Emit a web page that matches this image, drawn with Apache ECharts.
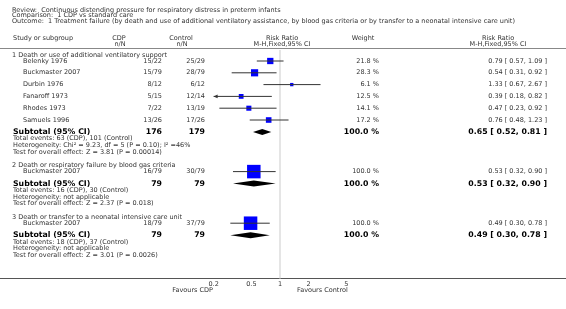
<!DOCTYPE html>
<html>
<head>
<meta charset="utf-8">
<script src="https://cdn.jsdelivr.net/npm/echarts@6/dist/echarts.min.js"></script>
<style>
  html, body { margin: 0; padding: 0; background: #fff; }
  #chart { width: 566px; height: 309px; }
</style>
</head>
<body>
<div id="chart"></div>
<script>
// header lines
const reviewTitle = 'Review:  Continuous distending pressure for respiratory distress in preterm infants';
const comparisonTitle = 'Comparison:  1 CDP vs standard care';
const outcomeTitle = 'Outcome:  1 Treatment failure (by death and use of additional ventilatory assistance, by blood gas criteria or by transfer to a neonatal intensive care unit)';

// subgroups
const groupTitles = [
  '1 Death or use of additional ventilatory support',
  '2 Death or respiratory failure by blood gas criteria',
  '3 Death or transfer to a neonatal intensive care unit'
];

// studies
const studyNames = ['Belenky 1976', 'Buckmaster 2007', 'Durbin 1976', 'Fanaroff 1973', 'Rhodes 1973', 'Samuels 1996', 'Buckmaster 2007', 'Buckmaster 2007'];
const studyGroup = [0, 0, 0, 0, 0, 0, 1, 2];
const cdpEvents = ['15/22', '15/79', '8/12', '5/15', '7/22', '13/26', '16/79', '18/79'];
const controlEvents = ['25/29', '28/79', '6/12', '12/14', '13/19', '17/26', '30/79', '37/79'];
const weights = [21.8, 28.3, 6.1, 12.5, 14.1, 17.2, 100, 100];
const riskRatio = [0.79, 0.54, 1.33, 0.39, 0.47, 0.76, 0.53, 0.49];
const ciLow = [0.57, 0.31, 0.67, 0.18, 0.23, 0.48, 0.32, 0.30];
const ciHigh = [1.09, 0.92, 2.67, 0.82, 0.92, 1.23, 0.90, 0.78];

// subtotals
const subCdpN = [176, 79, 79];
const subControlN = [179, 79, 79];
const subRR = [0.65, 0.53, 0.49];
const subLow = [0.52, 0.32, 0.30];
const subHigh = [0.81, 0.90, 0.78];
const totalEvents = [
  'Total events: 63 (CDP), 101 (Control)',
  'Total events: 16 (CDP), 30 (Control)',
  'Total events: 18 (CDP), 37 (Control)'
];
const heterogeneity = [
  'Heterogeneity: Chi\u00b2 = 9.23, df = 5 (P = 0.10); I\u00b2 =46%',
  'Heterogeneity: not applicable',
  'Heterogeneity: not applicable'
];
const overallEffect = [
  'Test for overall effect: Z = 3.81 (P = 0.00014)',
  'Test for overall effect: Z = 2.37 (P = 0.018)',
  'Test for overall effect: Z = 3.01 (P = 0.0026)'
];

// axis
const xTicks = [0.2, 0.5, 1, 2, 5];
const X_MIN = 0.2, X_MAX = 5;

// ---- layout (row positions in px) ----
const AXIS_Y = 278.5;
const titleY = [], studyY = [], subY = [], noteY = [];
let y = 55;
groupTitles.forEach((t, g) => {
  titleY.push(y);
  y += 6;
  let last = y;
  studyNames.forEach((n, i) => {
    if (studyGroup[i] !== g) return;
    studyY[i] = y;
    last = y;
    y += 11.8;
  });
  const sub = last + 12;
  subY.push(sub);
  noteY.push(sub + 6.7);
  y = sub + 6.7 * 3 + 13.5;
});

const FONT = '"DejaVu Sans", Verdana, sans-serif';
const SMALL = 6.5, BOLD = 7.8;
const txt = (text, x, y, opts = {}) => ({
  type: 'text',
  silent: true,
  style: {
    text, x, y,
    fontFamily: FONT,
    fontSize: opts.size || (opts.bold ? BOLD : SMALL),
    fontWeight: opts.bold ? 'bold' : 'normal',
    fill: opts.bold ? '#000' : '#333',
    align: opts.align || 'left',
    verticalAlign: 'middle'
  }
});

const fmtCI = (r, l, h) => `${r.toFixed(2)} [ ${l.toFixed(2)}, ${h.toFixed(2)} ]`;

const graphics = [
  txt(reviewTitle, 12, 10),
  txt(comparisonTitle, 12, 15.5),
  txt(outcomeTitle, 12, 21),
  txt('Study or subgroup', 13, 38),
  txt('CDP', 119, 38, { align: 'center' }),
  txt('n/N', 120, 44, { align: 'center' }),
  txt('Control', 181, 38, { align: 'center' }),
  txt('n/N', 182, 44, { align: 'center' }),
  txt('Risk Ratio', 282, 38, { align: 'center' }),
  txt('M-H,Fixed,95% CI', 282, 44, { align: 'center' }),
  txt('Weight', 363, 38, { align: 'center' }),
  txt('Risk Ratio', 498, 38, { align: 'center' }),
  txt('M-H,Fixed,95% CI', 498, 44, { align: 'center' }),
  { type: 'line', silent: true, shape: { x1: 0, y1: 48.5, x2: 566, y2: 48.5 }, style: { stroke: '#888', lineWidth: 1.2 } },
  { type: 'line', silent: true, shape: { x1: 0, y1: AXIS_Y, x2: 566, y2: AXIS_Y }, style: { stroke: '#555', lineWidth: 1 } },
  txt('Favours CDP', 213, 290.5, { align: 'right' }),
  txt('Favours Control', 297, 290.5)
];

groupTitles.forEach((t, g) => {
  graphics.push(txt(t, 12, titleY[g]));
  graphics.push(txt('Subtotal (95% CI)', 13, subY[g], { bold: true }));
  graphics.push(txt(String(subCdpN[g]), 162, subY[g], { bold: true, align: 'right' }));
  graphics.push(txt(String(subControlN[g]), 205, subY[g], { bold: true, align: 'right' }));
  graphics.push(txt('100.0 %', 379, subY[g], { bold: true, align: 'right' }));
  graphics.push(txt(fmtCI(subRR[g], subLow[g], subHigh[g]), 547, subY[g], { bold: true, align: 'right' }));
  graphics.push(txt(totalEvents[g], 13, noteY[g]));
  graphics.push(txt(heterogeneity[g], 13, noteY[g] + 6.7));
  graphics.push(txt(overallEffect[g], 13, noteY[g] + 13.4));
});

studyNames.forEach((n, i) => {
  graphics.push(txt(n, 23, studyY[i]));
  graphics.push(txt(cdpEvents[i], 162, studyY[i], { align: 'right' }));
  graphics.push(txt(controlEvents[i], 205, studyY[i], { align: 'right' }));
  graphics.push(txt(weights[i].toFixed(1) + ' %', 379, studyY[i], { align: 'right' }));
  graphics.push(txt(fmtCI(riskRatio[i], ciLow[i], ciHigh[i]), 547, studyY[i], { align: 'right' }));
});

function renderStudy(params, api) {
  const yy = api.value(1);
  const lo = api.value(2), hi = api.value(3), w = api.value(4);
  const c = api.coord([api.value(0), yy]);
  const lc = api.coord([Math.max(lo, X_MIN), yy]);
  const hc = api.coord([Math.min(hi, X_MAX), yy]);
  const s = Math.max(3, 13.5 * Math.sqrt(w / 100));
  const children = [
    { type: 'rect', shape: { x: c[0] - s / 2, y: c[1] - s / 2, width: s, height: s }, style: { fill: '#0000ff' } },
    { type: 'line', shape: { x1: lc[0], y1: lc[1], x2: hc[0], y2: hc[1] }, style: { stroke: '#333', lineWidth: 1 } }
  ];
  if (lo < X_MIN) {
    children.push({ type: 'polygon', shape: { points: [[lc[0], lc[1]], [lc[0] + 4, lc[1] - 1.8], [lc[0] + 4, lc[1] + 1.8]] }, style: { fill: '#333' } });
  }
  if (hi > X_MAX) {
    children.push({ type: 'polygon', shape: { points: [[hc[0], hc[1]], [hc[0] - 4, hc[1] - 1.8], [hc[0] - 4, hc[1] + 1.8]] }, style: { fill: '#333' } });
  }
  return { type: 'group', children };
}

function renderDiamond(params, api) {
  const yy = api.value(1);
  const m = api.coord([api.value(0), yy]);
  const l = api.coord([api.value(2), yy]);
  const h = api.coord([api.value(3), yy]);
  return {
    type: 'polygon',
    shape: { points: [[l[0], l[1]], [m[0], m[1] - 3], [h[0], h[1]], [m[0], m[1] + 3]] },
    style: { fill: '#000' }
  };
}

const chart = echarts.init(document.getElementById('chart'), null, { renderer: 'canvas' });

chart.setOption({
  animation: false,
  grid: { left: 213.6, width: 132.8, top: 0, height: AXIS_Y },
  xAxis: {
    type: 'log',
    logBase: 10,
    min: X_MIN,
    max: X_MAX,
    axisLine: { show: false },
    splitLine: { show: false },
    axisTick: { show: true, inside: true, length: 2.5, customValues: xTicks, lineStyle: { color: '#444' } },
    axisLabel: {
      customValues: xTicks,
      formatter: v => String(+(+v).toPrecision(3)),
      fontSize: SMALL,
      fontFamily: FONT,
      color: '#333',
      margin: 2
    }
  },
  yAxis: { type: 'value', min: 0, max: AXIS_Y, inverse: true, show: false },
  series: [
    {
      type: 'line',
      silent: true,
      symbol: 'none',
      data: [[1, 50], [1, AXIS_Y]],
      lineStyle: { color: '#ddd', width: 1.5 },
      z: 1
    },
    {
      type: 'custom',
      silent: true,
      renderItem: renderStudy,
      data: studyNames.map((n, i) => [riskRatio[i], studyY[i], ciLow[i], ciHigh[i], weights[i]]),
      z: 3
    },
    {
      type: 'custom',
      silent: true,
      renderItem: renderDiamond,
      data: groupTitles.map((t, g) => [subRR[g], subY[g], subLow[g], subHigh[g]]),
      z: 3
    }
  ],
  graphic: graphics
});
</script>
</body>
</html>
